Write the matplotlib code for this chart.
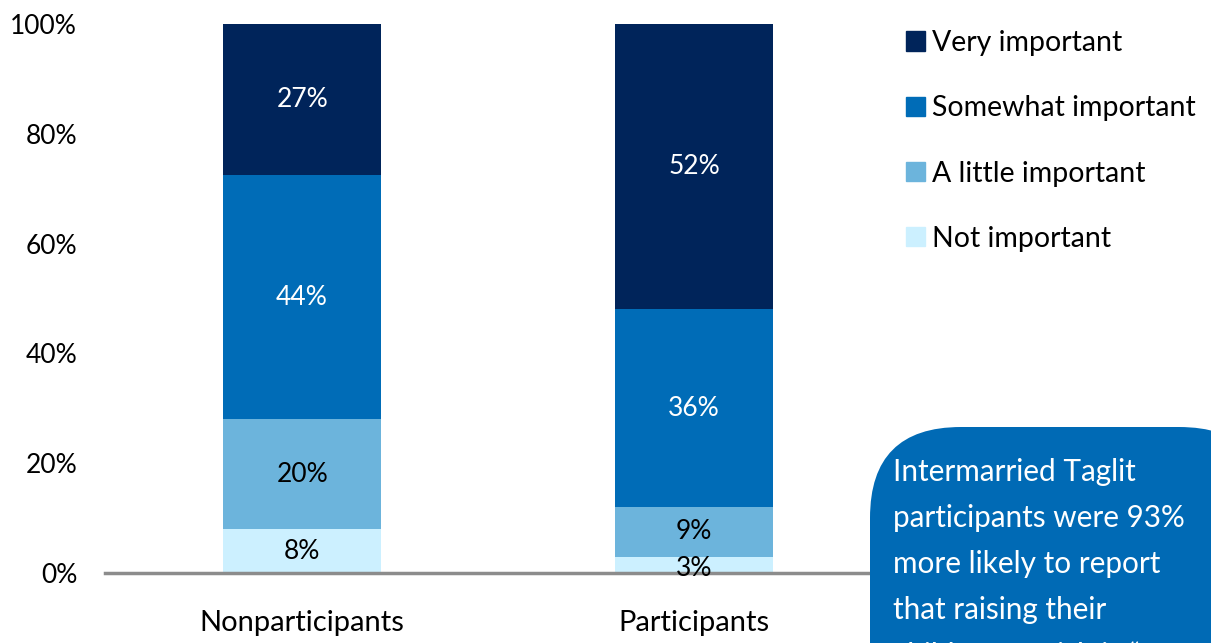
import matplotlib.pyplot as plt
from matplotlib.patches import Patch, FancyBboxPatch

plt.rcParams['font.family'] = ['Lato', 'DejaVu Sans']

# data
groups = ['Nonparticipants', 'Participants']
levels = ['Not important', 'A little important', 'Somewhat important', 'Very important']
values = {
    'Not important': [8, 3],
    'A little important': [20, 9],
    'Somewhat important': [44.5, 36],
    'Very important': [27.5, 52],
}
value_labels = {
    'Not important': ['8%', '3%'],
    'A little important': ['20%', '9%'],
    'Somewhat important': ['44%', '36%'],
    'Very important': ['27%', '52%'],
}
colors = {
    'Not important': '#CCF0FF',
    'A little important': '#6CB4DC',
    'Somewhat important': '#006CB7',
    'Very important': '#00245A',
}
text_colors = {
    'Not important': 'black',
    'A little important': 'black',
    'Somewhat important': 'white',
    'Very important': 'white',
}
# the callout runs off the bottom of the slide in the original
callout = ('Intermarried Taglit\nparticipants were 93%\nmore likely to report\n'
           'that raising their\nchildren Jewish is \u201c')

W, H = 1211, 643
fig = plt.figure(figsize=(W / 100, H / 100), dpi=100)
ax = fig.add_axes([105 / W, 70 / H, 765 / W, 549 / H])

x = [0, 1]
bottom = [0, 0]
for lev in levels:
    vals = values[lev]
    ax.bar(x, vals, width=0.403, bottom=bottom, color=colors[lev], label=lev)
    for i in range(len(x)):
        # tiny segments get their label nudged down a bit, as in the original
        yoff = -0.6 if vals[i] < 5 else 0
        ax.text(x[i], bottom[i] + vals[i] / 2 + yoff, value_labels[lev][i], ha='center', va='center',
                fontsize=19, color=text_colors[lev], zorder=5)
    bottom = [b + v for b, v in zip(bottom, vals)]

ax.set_xlim(-0.503, 1.449)
ax.set_ylim(0, 100)
ax.set_yticks([0, 20, 40, 60, 80, 100])
ax.set_yticklabels(['0%', '20%', '40%', '60%', '80%', '100%'])
ax.set_xticks(x)
ax.set_xticklabels(groups)
ax.tick_params(axis='y', length=0, pad=20, labelsize=19)
ax.tick_params(axis='x', length=0, pad=27, labelsize=21)
for s in ['top', 'right', 'left']:
    ax.spines[s].set_visible(False)
ax.spines['bottom'].set_color('#8C8C8C')
ax.spines['bottom'].set_linewidth(2.5)
ax.spines['bottom'].set_zorder(4)

handles = [Patch(color=colors[lev], label=lev) for lev in levels[::-1]]
fig.legend(handles=handles, loc='upper left', bbox_to_anchor=(906 / W, 1 - 30 / H),
           frameon=False, fontsize=20.5, handlelength=0.65, handleheight=0.65,
           handletextpad=0.28, labelspacing=1.38, borderpad=0, borderaxespad=0)

box = FancyBboxPatch((870 / W, -0.2), 400 / W, 0.2 + (H - 427) / H,
                     boxstyle='round,pad=0,rounding_size=0.075',
                     transform=fig.transFigure, facecolor='#006AB5', edgecolor='none',
                     zorder=10, clip_on=False, mutation_aspect=W / H)
fig.add_artist(box)
fig.text(893 / W, 1 - 458 / H, callout, ha='left', va='top', color='white',
         fontsize=21.4, linespacing=1.78, zorder=11)

fig.savefig('out.png', dpi=100)
